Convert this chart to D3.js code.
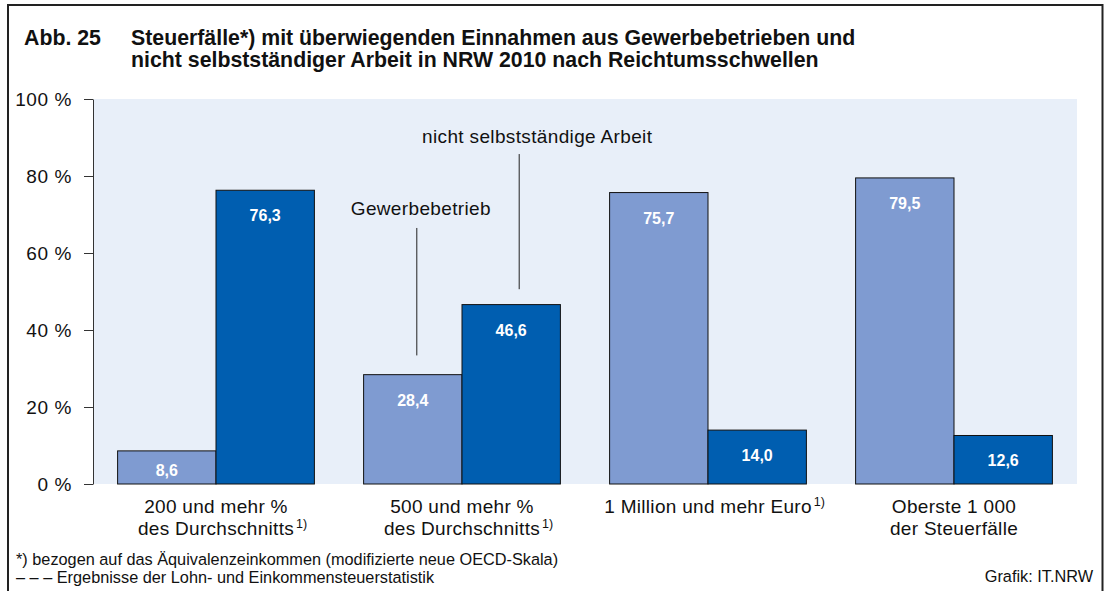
<!DOCTYPE html>
<html>
<head>
<meta charset="utf-8">
<script src="https://cdn.jsdelivr.net/npm/d3@7"></script>
<style>
  body { margin: 0; background: #fff; }
  svg text { font-family: "Liberation Sans", Arial, sans-serif; fill: #111; }
</style>
</head>
<body>
<svg id="chart" width="1104" height="591"></svg>
<script>
// values
const categoryLine1 = ["200 und mehr %", "500 und mehr %", "1 Million und mehr Euro", "Oberste 1 000"];
const categoryLine2 = ["des Durchschnitts", "des Durchschnitts", "", "der Steuerfälle"];
const categorySup = ["1)", "1)", "1)", ""];
const gewerbe = [8.6, 28.4, 75.7, 79.5];
const arbeit = [76.3, 46.6, 14.0, 12.6];
const yTicks = [0, 20, 40, 60, 80, 100];

const svg = d3.select("#chart");

// frame
svg.append("path")
    .attr("d", "M8,591V5H1102.5V591")
    .attr("fill", "none")
    .attr("stroke", "#222")
    .attr("stroke-width", 2);

// title
const title = svg.append("g").style("font-weight", 700).style("font-size", "21.3px");
title.append("text").attr("x", 24).attr("y", 45).text("Abb. 25");
title.append("text").attr("x", 131).attr("y", 45)
    .text("Steuerfälle*) mit überwiegenden Einnahmen aus Gewerbebetrieben und");
title.append("text").attr("x", 131).attr("y", 67)
    .text("nicht selbstständiger Arbeit in NRW 2010 nach Reichtumsschwellen");

// plot area
var plot = {left: 93, right: 1077, top: 99, bottom: 484};

svg.append("rect")
    .attr("x", plot.left).attr("y", plot.top)
    .attr("width", plot.right - plot.left)
    .attr("height", plot.bottom - plot.top)
    .attr("fill", "#e8eff9");

const y = d3.scaleLinear().domain([0, 100]).range([plot.bottom, plot.top]);

const x0 = d3.scaleBand()
    .domain(d3.range(categoryLine1.length))
    .range([plot.left, plot.right])
    .paddingInner(0.2)
    .paddingOuter(0.1);

const x1 = d3.scaleBand()
    .domain(["gewerbe", "arbeit"])
    .range([0, x0.bandwidth()]);

const colors = {gewerbe: "#7f9bd1", arbeit: "#005eb0"};

// y axis
const yAxis = svg.append("g")
    .attr("transform", "translate(" + plot.left + ",0)")
    .call(d3.axisLeft(y)
        .tickValues(yTicks)
        .tickSize(9)
        .tickSizeOuter(0)
        .tickPadding(12)
        .tickFormat(d => d + " %"));
yAxis.select(".domain").attr("stroke", "#333");
yAxis.selectAll(".tick line").attr("stroke", "#333");
yAxis.selectAll(".tick text")
    .style("font-size", "19px")
    .style("letter-spacing", "0.6px")
    .style("font-family", "'Liberation Sans', Arial, sans-serif")
    .attr("fill", "#111");

// bars
const rows = categoryLine1.map((c, i) => ({i: i, gewerbe: gewerbe[i], arbeit: arbeit[i]}));

const groups = svg.append("g").selectAll("g")
    .data(rows)
    .join("g")
    .attr("transform", d => "translate(" + x0(d.i) + ",0)");

const bars = groups.selectAll("g")
    .data(d => ["gewerbe", "arbeit"].map(k => ({key: k, value: d[k]})))
    .join("g");

bars.append("rect")
    .attr("x", d => x1(d.key))
    .attr("y", d => y(d.value))
    .attr("width", x1.bandwidth())
    .attr("height", d => y(0) - y(d.value))
    .attr("fill", d => colors[d.key])
    .attr("stroke", "#111")
    .attr("stroke-width", 1);

bars.append("text")
    .attr("x", d => x1(d.key) + x1.bandwidth() / 2)
    .attr("y", d => Math.min(y(d.value) + 31, y(0) - 8))
    .attr("text-anchor", "middle")
    .style("font-size", "16px")
    .style("font-weight", 700)
    .style("fill", "#fff")
    .text(d => d3.format(".1f")(d.value).replace(".", ","));

// category labels
categoryLine1.forEach(function(label, i) {
    const cx = x0(i) + x0.bandwidth() / 2;
    const lines = categoryLine2[i] ? [label, categoryLine2[i]] : [label];
    lines.forEach(function(line, j) {
        const t = svg.append("text")
            .attr("x", cx)
            .attr("y", 513 + j * 22)
            .attr("text-anchor", "middle")
            .style("font-size", "19px")
            .style("letter-spacing", "0.3px")
            .text(line);
        if (j === lines.length - 1 && categorySup[i]) {
            const w = t.node().getComputedTextLength();
            svg.append("text")
                .attr("x", cx + w / 2 + 2)
                .attr("y", 513 + j * 22 - 7)
                .style("font-size", "12.5px")
                .text(categorySup[i]);
        }
    });
});

// series annotations pointing at the second group
const notes = [
    {text: "Gewerbebetrieb", key: "gewerbe", dx: 4, textDx: 8, lineTop: 66.5, lineBottom: 33.4, textY: 69.9},
    {text: "nicht selbstständige Arbeit", key: "arbeit", dx: 8, textDx: 26, lineTop: 85.7, lineBottom: 50.6, textY: 88.6}
];
notes.forEach(function(n) {
    const bx = x0(1) + x1(n.key) + x1.bandwidth() / 2 + n.dx;
    svg.append("line")
        .attr("x1", bx).attr("x2", bx)
        .attr("y1", y(n.lineTop)).attr("y2", y(n.lineBottom))
        .attr("stroke", "#222")
        .attr("stroke-width", 1);
    svg.append("text")
        .attr("x", bx + n.textDx - n.dx)
        .attr("y", y(n.textY))
        .attr("text-anchor", "middle")
        .style("font-size", "19px")
        .style("letter-spacing", "0.35px")
        .text(n.text);
});

// footnotes
const foot = svg.append("g").style("font-size", "16.3px");
foot.append("text").attr("x", 16).attr("y", 565)
    .text("*) bezogen auf das Äquivalenzeinkommen (modifizierte neue OECD-Skala)");
foot.append("text").attr("x", 16).attr("y", 583)
    .text("– – – Ergebnisse der Lohn- und Einkommensteuerstatistik");
foot.append("text").attr("x", 1093).attr("y", 582).attr("text-anchor", "end")
    .text("Grafik: IT.NRW");
</script>
</body>
</html>
